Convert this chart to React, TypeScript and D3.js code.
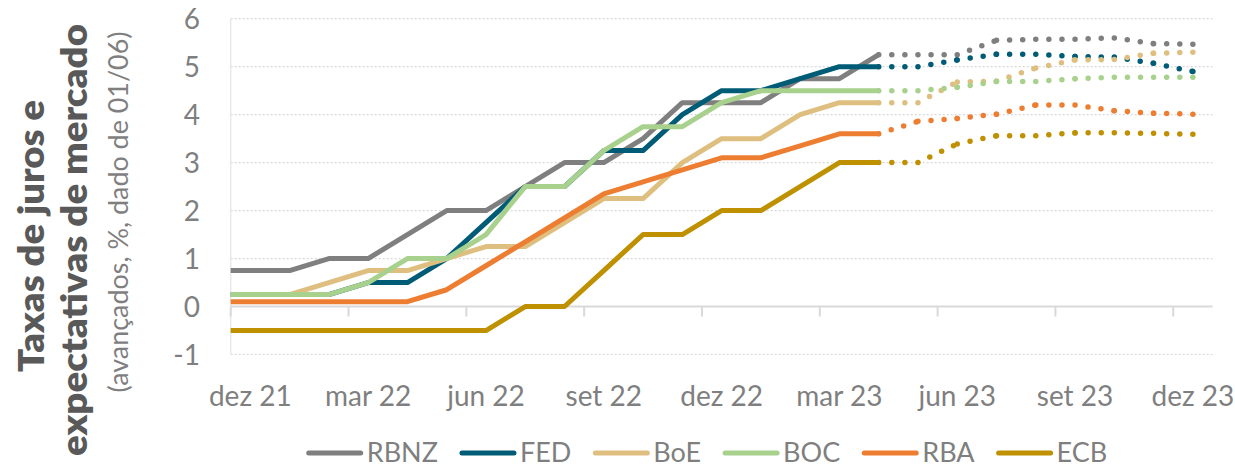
import { useEffect, useRef } from "react";
import * as d3 from "d3";

// months on the axis (nov 21 sits just left of the plot and is clipped)
const months = [
  "nov 21", "dez 21", "jan 22", "fev 22", "mar 22", "abr 22", "mai 22", "jun 22",
  "jul 22", "ago 22", "set 22", "out 22", "nov 22", "dez 22", "jan 23", "fev 23",
  "mar 23", "abr 23", "mai 23", "jun 23", "jul 23", "ago 23", "set 23", "out 23",
  "nov 23", "dez 23",
];
const axisStart = "dez 21";
const forecastStart = "abr 23";
const tickLabels = ["dez 21", "mar 22", "jun 22", "set 22", "dez 22", "mar 23", "jun 23", "set 23", "dez 23"];
const yTicks = [-1, 0, 1, 2, 3, 4, 5, 6];

// policy rates, nov 21 .. abr 23
const rbnz = [0.75, 0.75, 0.75, 1.0, 1.0, 1.5, 2.0, 2.0, 2.5, 3.0, 3.0, 3.5, 4.25, 4.25, 4.25, 4.75, 4.75, 5.25];
const fed = [0.25, 0.25, 0.25, 0.25, 0.5, 0.5, 1.0, 1.75, 2.5, 2.5, 3.25, 3.25, 4.0, 4.5, 4.5, 4.75, 5.0, 5.0];
const boe = [0.25, 0.25, 0.25, 0.5, 0.75, 0.75, 1.0, 1.25, 1.25, 1.75, 2.25, 2.25, 3.0, 3.5, 3.5, 4.0, 4.25, 4.25];
const boc = [0.25, 0.25, 0.25, 0.25, 0.5, 1.0, 1.0, 1.5, 2.5, 2.5, 3.25, 3.75, 3.75, 4.25, 4.5, 4.5, 4.5, 4.5];
const rba = [0.1, 0.1, 0.1, 0.1, 0.1, 0.1, 0.35, 0.85, 1.35, 1.85, 2.35, 2.6, 2.85, 3.1, 3.1, 3.35, 3.6, 3.6];
const ecb = [-0.5, -0.5, -0.5, -0.5, -0.5, -0.5, -0.5, -0.5, 0, 0, 0.75, 1.5, 1.5, 2.0, 2.0, 2.5, 3.0, 3.0];

// market expectations, abr 23 .. dez 23
const rbnzExp = [5.25, 5.25, 5.25, 5.55, 5.57, 5.57, 5.6, 5.48, 5.47];
const fedExp = [5.0, 5.0, 5.14, 5.26, 5.26, 5.21, 5.2, 5.07, 4.9];
const boeExp = [4.25, 4.25, 4.68, 4.7, 4.97, 5.14, 5.15, 5.28, 5.3];
const bocExp = [4.5, 4.5, 4.57, 4.69, 4.69, 4.75, 4.78, 4.78, 4.78];
const rbaExp = [3.6, 3.86, 3.92, 4.01, 4.2, 4.2, 4.08, 4.03, 4.01];
const ecbExp = [3.0, 3.0, 3.39, 3.56, 3.56, 3.62, 3.62, 3.61, 3.59];

const seriesNames = ["RBNZ", "FED", "BoE", "BOC", "RBA", "ECB"];
const seriesColors = ["#7f7f7f", "#005c76", "#dfbf7f", "#a9d18e", "#ed7d31", "#bf9000"];
const actuals = [rbnz, fed, boe, boc, rba, ecb];
const expectations = [rbnzExp, fedExp, boeExp, bocExp, rbaExp, ecbExp];

const FONT = "Lato, 'Open Sans', sans-serif";

export default function App() {
  const svgRef = useRef<SVGSVGElement>(null);

  useEffect(() => {
    if (!svgRef.current) return;
    const width = 1235;
    const height = 467;
    const svg = d3.select(svgRef.current).attr("width", width).attr("height", height);
    svg.selectAll("*").remove();

    const offset = months.indexOf(axisStart);
    const last = months.length - 1 - offset;
    const left = 230.7;
    const right = 1212.5;
    const x = d3.scaleLinear().domain([-0.5, last + 0.5]).range([left, right]);
    const y = d3.scaleLinear().domain([-1, 6]).range([354.5, 18.7]);
    const xm = (m: string) => x(months.indexOf(m) - offset);

    // grid
    svg.append("g")
      .selectAll("line")
      .data(yTicks.filter((v) => v !== 0))
      .join("line")
      .attr("x1", left)
      .attr("x2", right)
      .attr("y1", (d) => y(d))
      .attr("y2", (d) => y(d))
      .attr("stroke", "#d9d9d9")
      .attr("stroke-width", 1.2)
      .attr("stroke-dasharray", "2 2");

    svg.append("line")
      .attr("x1", left).attr("x2", left)
      .attr("y1", y(6)).attr("y2", y(-1))
      .attr("stroke", "#e8e8e8").attr("stroke-width", 1.5);

    // zero axis with ticks
    svg.append("line")
      .attr("x1", left).attr("x2", right)
      .attr("y1", y(0)).attr("y2", y(0))
      .attr("stroke", "#d9d9d9").attr("stroke-width", 2);

    svg.append("g")
      .selectAll("line")
      .data(tickLabels)
      .join("line")
      .attr("x1", (d) => xm(d) - (x(1) - x(0)) / 2)
      .attr("x2", (d) => xm(d) - (x(1) - x(0)) / 2)
      .attr("y1", y(0))
      .attr("y2", y(0) + 10)
      .attr("stroke", "#d9d9d9")
      .attr("stroke-width", 2);

    // x labels
    svg.append("g")
      .selectAll("text")
      .data(tickLabels)
      .join("text")
      .attr("x", (d) => xm(d))
      .attr("y", 406)
      .attr("text-anchor", "middle")
      .attr("fill", "#7f7f7f")
      .style("font-family", FONT)
      .style("font-size", "28px")
      .text((d) => d);

    // y labels
    svg.append("g")
      .selectAll("text")
      .data(yTicks)
      .join("text")
      .attr("x", 200)
      .attr("y", (d) => y(d))
      .attr("dy", "0.36em")
      .attr("text-anchor", "end")
      .attr("fill", "#7f7f7f")
      .style("font-family", FONT)
      .style("font-size", "28px")
      .text((d) => String(d));

    // title
    const titles = [
      { text: "Taxas de juros e", x: 44, cy: 236, len: 272, bold: true, size: 35 },
      { text: "expectativas de mercado", x: 87, cy: 240, len: 432, bold: true, size: 35 },
      { text: "(avançados, %, dado de 01/06)", x: 128, cy: 212, len: 361, bold: false, size: 27 },
    ];
    for (const t of titles) {
      svg.append("text")
        .attr("transform", `translate(${t.x},${t.cy}) rotate(-90)`)
        .attr("text-anchor", "middle")
        .attr("textLength", t.len)
        .attr("lengthAdjust", "spacingAndGlyphs")
        .attr("fill", t.bold ? "#595959" : "#7f7f7f")
        .style("font-family", FONT)
        .style("font-weight", t.bold ? "800" : "400")
        .style("font-size", `${t.size}px`)
        .text(t.text);
    }

    // clip
    svg.append("defs").append("clipPath").attr("id", "plot-clip")
      .append("rect").attr("x", left).attr("y", 0).attr("width", right - left + 10).attr("height", height);

    const plot = svg.append("g").attr("clip-path", "url(#plot-clip)");
    const line = d3.line<[number, number]>().x((d) => d[0]).y((d) => d[1]);

    seriesNames.forEach((name, si) => {
      const pts: [number, number][] = actuals[si].map((v, i) => [xm(months[i]), y(v)]);
      plot.append("path")
        .attr("d", line(pts))
        .attr("fill", "none")
        .attr("stroke", seriesColors[si])
        .attr("stroke-width", 5)
        .attr("stroke-linejoin", "round")
        .attr("stroke-linecap", "round");
    });

    const fi = months.indexOf(forecastStart);
    seriesNames.forEach((name, si) => {
      const pts: [number, number][] = expectations[si].map((v, j) => [xm(months[fi + j]), y(v)]);
      const g = plot.append("g");
      for (let k = 0; k < pts.length - 1; k++) {
        g.append("path")
          .attr("d", line([pts[k], pts[k + 1]]))
          .attr("fill", "none")
          .attr("stroke", seriesColors[si])
          .attr("stroke-width", 5.5)
          .attr("stroke-linecap", "round")
          .attr("stroke-dasharray", "0 13.1");
      }
      // final dot
      g.append("path")
        .attr("d", line([pts[pts.length - 1], pts[pts.length - 1]]))
        .attr("stroke", seriesColors[si])
        .attr("stroke-width", 5.5)
        .attr("stroke-linecap", "round");
    });

    // legend
    const legend = svg.append("g");
    const items = seriesNames.map((name, i) => {
      const g = legend.append("g");
      g.append("line")
        .attr("x1", 0).attr("x2", 52)
        .attr("y1", 453).attr("y2", 453)
        .attr("stroke", seriesColors[i])
        .attr("stroke-width", 5)
        .attr("stroke-linecap", "round");
      const t = g.append("text")
        .attr("x", 58)
        .attr("y", 462)
        .attr("fill", "#7f7f7f")
        .style("font-family", FONT)
        .style("font-size", "27px")
        .text(name);
      const w = (t.node() as SVGTextElement).getComputedTextLength();
      return { g, w: 58 + w };
    });
    const gap = 24;
    const total = d3.sum(items, (d) => d.w) + gap * (items.length - 1);
    let cx = 708 - total / 2;
    for (const it of items) {
      it.g.attr("transform", `translate(${cx},0)`);
      cx += it.w + gap;
    }
  }, []);

  return (
    <div style={{ position: "absolute", left: 0, top: 0, background: "#fff" }}>
      <svg ref={svgRef} style={{ display: "block" }} />
    </div>
  );
}
